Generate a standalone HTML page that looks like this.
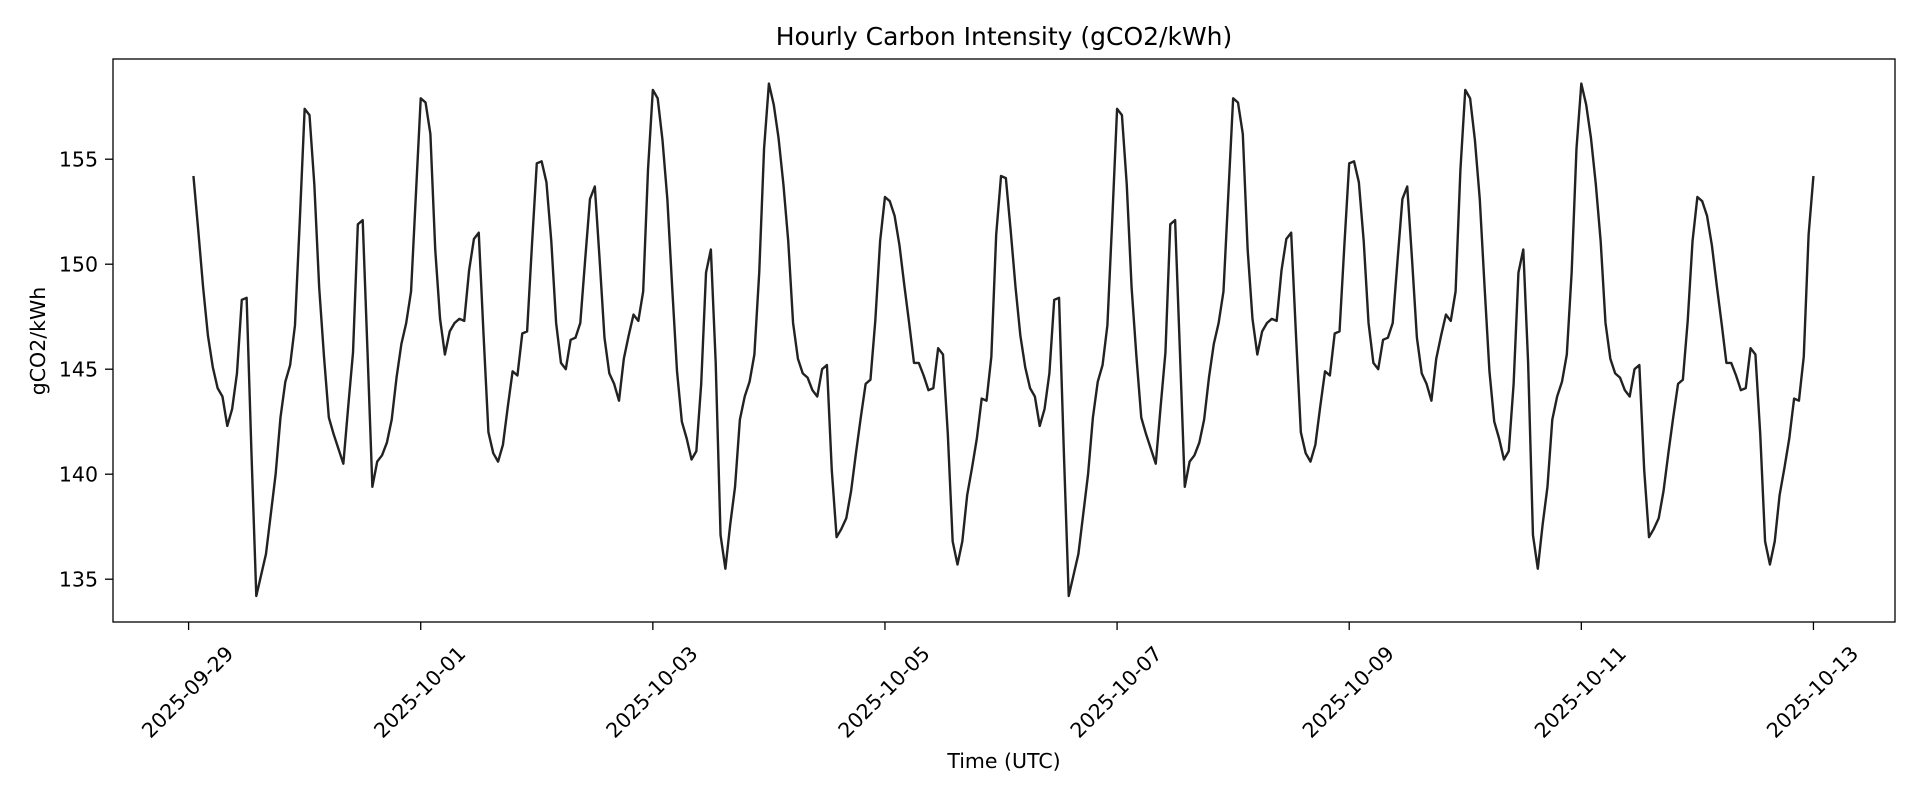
<!DOCTYPE html>
<html><head><meta charset="utf-8"><style>
html,body{margin:0;padding:0;background:#fff;}
svg text{font-family:"DejaVu Sans","Liberation Sans",sans-serif;fill:#000;}
</style></head><body>
<svg id="chart" width="1920" height="800" viewBox="0 0 1920 800" xmlns="http://www.w3.org/2000/svg">
<rect width="1920" height="800" fill="#fff"/>
<text x="1004" y="45" font-size="25" text-anchor="middle">Hourly Carbon Intensity (gCO2/kWh)</text>
<text x="1004" y="768" font-size="20.5" text-anchor="middle">Time (UTC)</text>
<text transform="translate(45,341) rotate(-90)" font-size="20.5" text-anchor="middle">gCO2/kWh</text>
<g id="yticks"></g><g id="xticks"></g>
<path id="series" fill="none" stroke="#222" stroke-width="2.4" stroke-linejoin="round"/>
<rect x="113" y="59" width="1782" height="563" fill="none" stroke="#000" stroke-width="1.3"/>
</svg>
<script>
const startHour = 1; // hours after 2025-09-29 00:00 UTC
const values = [
154.2,151.6,148.9,146.6,145.1,144.1,143.7,142.3,143.1,144.8,148.3,148.4,141.0,134.2,135.2,136.2,138.1,140.0,142.7,144.4,145.2,147.1,152.1,157.4,
157.1,153.8,148.9,145.6,142.7,141.9,141.2,140.5,143.2,145.8,151.9,152.1,145.8,139.4,140.6,140.9,141.5,142.6,144.6,146.2,147.2,148.7,153.3,157.9,
157.7,156.2,150.7,147.4,145.7,146.8,147.2,147.4,147.3,149.7,151.2,151.5,146.6,142.0,141.0,140.6,141.4,143.2,144.9,144.7,146.7,146.8,150.9,154.8,
154.9,153.9,151.1,147.2,145.3,145.0,146.4,146.5,147.2,150.2,153.1,153.7,150.2,146.5,144.8,144.3,143.5,145.5,146.6,147.6,147.3,148.7,154.5,158.3,
157.9,155.9,153.1,148.9,144.9,142.5,141.7,140.7,141.1,144.3,149.6,150.7,145.3,137.1,135.5,137.6,139.4,142.6,143.7,144.4,145.7,149.6,155.5,158.6,
157.6,156.0,153.8,151.1,147.2,145.5,144.8,144.6,144.0,143.7,145.0,145.2,140.2,137.0,137.4,137.9,139.2,141.0,142.7,144.3,144.5,147.3,151.1,153.2,
153.0,152.3,150.9,149.0,147.2,145.3,145.3,144.7,144.0,144.1,146.0,145.7,141.9,136.8,135.7,136.8,139.0,140.3,141.7,143.6,143.5,145.6,151.4,154.2,
154.1,151.6,148.9,146.6,145.1,144.1,143.7,142.3,143.1,144.8,148.3,148.4,141.0,134.2,135.2,136.2,138.1,140.0,142.7,144.4,145.2,147.1,152.1,157.4,
157.1,153.8,148.9,145.6,142.7,141.9,141.2,140.5,143.2,145.8,151.9,152.1,145.8,139.4,140.6,140.9,141.5,142.6,144.6,146.2,147.2,148.7,153.3,157.9,
157.7,156.2,150.7,147.4,145.7,146.8,147.2,147.4,147.3,149.7,151.2,151.5,146.6,142.0,141.0,140.6,141.4,143.2,144.9,144.7,146.7,146.8,150.9,154.8,
154.9,153.9,151.1,147.2,145.3,145.0,146.4,146.5,147.2,150.2,153.1,153.7,150.2,146.5,144.8,144.3,143.5,145.5,146.6,147.6,147.3,148.7,154.5,158.3,
157.9,155.9,153.1,148.9,144.9,142.5,141.7,140.7,141.1,144.3,149.6,150.7,145.3,137.1,135.5,137.6,139.4,142.6,143.7,144.4,145.7,149.6,155.5,158.6,
157.6,156.0,153.8,151.1,147.2,145.5,144.8,144.6,144.0,143.7,145.0,145.2,140.2,137.0,137.4,137.9,139.2,141.0,142.7,144.3,144.5,147.3,151.1,153.2,
153.0,152.3,150.9,149.0,147.2,145.3,145.3,144.7,144.0,144.1,146.0,145.7,141.9,136.8,135.7,136.8,139.0,140.3,141.7,143.6,143.5,145.6,151.4,154.2
];
const yTicks = [135,140,145,150,155];
const xTickLabels = ["2025-09-29","2025-10-01","2025-10-03","2025-10-05","2025-10-07","2025-10-09","2025-10-11","2025-10-13"];
const xTickDays = [0,2,4,6,8,10,12,14];

const NS="http://www.w3.org/2000/svg";
const X0=188.6, PX_PER_DAY=116.06;
function xScale(hours){return X0+hours/24*PX_PER_DAY;}
function yScale(v){return 159.2+(155-v)*21.0;}

const yg=document.getElementById('yticks');
yTicks.forEach(t=>{
  const y=yScale(t);
  const l=document.createElementNS(NS,'line');
  l.setAttribute('x1',105);l.setAttribute('x2',113);l.setAttribute('y1',y);l.setAttribute('y2',y);
  l.setAttribute('stroke','#000');l.setAttribute('stroke-width','1.3');
  
  
  yg.appendChild(l);
  const tx=document.createElementNS(NS,'text');
  tx.setAttribute('x',98);tx.setAttribute('y',y+7.5);tx.setAttribute('text-anchor','end');tx.setAttribute('font-size','20.5');
  tx.textContent=t;
  
  
  yg.appendChild(tx);
});
const xg=document.getElementById('xticks');
xTickDays.forEach((d,i)=>{
  const x=xScale(d*24);
  const l=document.createElementNS(NS,'line');
  l.setAttribute('x1',x);l.setAttribute('x2',x);l.setAttribute('y1',622);l.setAttribute('y2',630);
  l.setAttribute('stroke','#000');l.setAttribute('stroke-width','1.3');
  
  
  xg.appendChild(l);
  const tx=document.createElementNS(NS,'text');
  tx.setAttribute('transform','translate('+(x+4)+',697) rotate(-45)');
  tx.setAttribute('text-anchor','middle');tx.setAttribute('font-size','20.5');
  tx.textContent=xTickLabels[i];
  
  
  xg.appendChild(tx);
});
let d='';
values.forEach((v,i)=>{d+=(i?'L':'M')+xScale(startHour+i).toFixed(2)+','+yScale(v).toFixed(2);});
document.getElementById('series').setAttribute('d',d);
</script>
</body></html>
